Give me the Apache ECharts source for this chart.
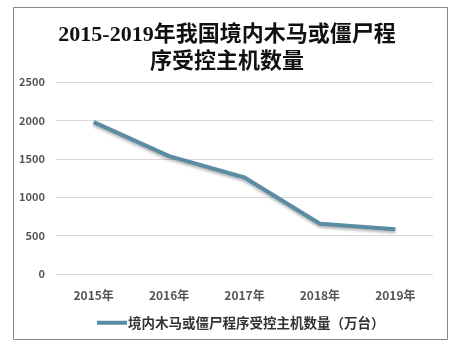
<!DOCTYPE html>
<html>
<head>
<meta charset="utf-8">
<script src="https://cdn.jsdelivr.net/npm/echarts@6/dist/echarts.min.js"></script>
<style>
  html, body { margin: 0; padding: 0; background: #fff; }
  #main { width: 454px; height: 352px; }
</style>
</head>
<body>
<div id="main"></div>
<script>
// 年份与受控主机数量（万台）
const years = ['2015年', '2016年', '2017年', '2018年', '2019年']
const hosts = [1978, 1534, 1256, 655, 582]
const seriesName = '境内木马或僵尸程序受控主机数量（万台）'

const chart = echarts.init(document.getElementById('main'))

chart.setOption({
  backgroundColor: '#fff',
  animation: false,
  graphic: [{
    type: 'rect',
    shape: { x: 13.5, y: 7.5, width: 434, height: 332 },
    style: { fill: 'none', stroke: '#888', lineWidth: 1 },
    silent: true,
  }],
  title: {
    text: '2015-2019年我国境内木马或僵尸程\n序受控主机数量',
    left: 'center',
    top: 17,
    textStyle: {
      fontFamily: "'Liberation Serif', 'Noto Sans CJK SC'",
      fontSize: 22,
      fontWeight: 'bold',
      color: '#111',
      lineHeight: 27,
    },
  },
  legend: {
    top: 311,
    left: 92,
    icon: 'rect',
    itemWidth: 30,
    itemHeight: 4,
    itemGap: 2,
    textStyle: {
      fontFamily: "'Noto Sans CJK SC'",
      fontSize: 13.5,
      fontWeight: 'bold',
      color: '#333',
      padding: [0, 0, 0, -4],
    },
    data: [seriesName],
  },
  grid: { left: 56, right: 21, top: 82, bottom: 78 },
  xAxis: {
    type: 'category',
    data: years,
    boundaryGap: true,
    axisLine: { show: false },
    axisTick: { show: false },
    axisLabel: {
      margin: 15,
      fontFamily: "'Noto Sans CJK SC'",
      fontSize: 12,
      fontWeight: 'bold',
      color: '#555',
    },
  },
  yAxis: {
    type: 'value',
    min: 0,
    max: 2500,
    interval: 500,
    axisLine: { show: false },
    axisTick: { show: false },
    splitLine: { lineStyle: { color: '#d9d9d9', width: 1 } },
    axisLabel: {
      margin: 11,
      formatter: v => String(v),
      fontFamily: "'Noto Sans CJK SC'",
      fontSize: 11,
      fontWeight: 'bold',
      color: '#555',
    },
  },
  series: [{
    name: seriesName,
    type: 'line',
    data: hosts,
    symbol: 'none',
    itemStyle: { color: '#5a8ca3' },
    lineStyle: {
      color: '#5a8ca3',
      width: 4,
      shadowColor: 'rgba(0,0,0,0.3)',
      shadowBlur: 3,
      shadowOffsetY: 2,
    },
  }],
})
</script>
</body>
</html>
